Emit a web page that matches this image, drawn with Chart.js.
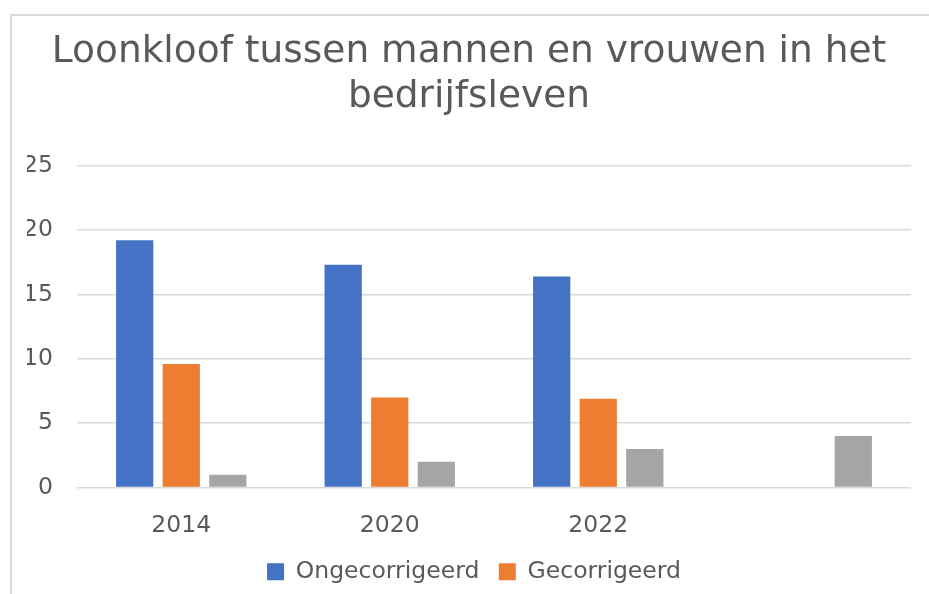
<!DOCTYPE html>
<html>
<head>
<meta charset="utf-8">
<script src="https://cdn.jsdelivr.net/npm/chart.js@4/dist/chart.umd.min.js"></script>
<style>
  html, body { margin: 0; padding: 0; background: #ffffff; overflow: hidden; }
  #frame { position: absolute; left: 10px; top: 14px; width: 1000px; height: 700px; border: 2px solid #d9d9d9; box-sizing: border-box; }
  #wrap { position: absolute; left: 0; top: 0; width: 929px; height: 594px; }
</style>
</head>
<body>
<div id="frame"></div>
<div id="wrap"><canvas id="c" width="929" height="594"></canvas></div>
<script>
const categories = ['2014', '2020', '2022', ''];
const ongecorrigeerd = [19.2, 17.3, 16.4, null];
const gecorrigeerd = [9.6, 7.0, 6.9, null];
const derdeReeks = [1, 2, 3, 4];
const yTicks = [0, 5, 10, 15, 20, 25];
const titleLines = ['Loonkloof tussen mannen en vrouwen in het', 'bedrijfsleven'];

const textColor = '#595959';
const font = 'DejaVu Sans';

const legendShift = {
  id: 'legendShift',
  afterLayout(chart) {
    if (chart.legend) { chart.legend.left -= 20; chart.legend.right -= 20; }
  }
};

new Chart(document.getElementById('c'), {
  type: 'bar',
  data: {
    labels: categories,
    datasets: [
      { label: 'Ongecorrigeerd', data: ongecorrigeerd, backgroundColor: '#4472C4' },
      { label: 'Gecorrigeerd', data: gecorrigeerd, backgroundColor: '#ED7D31' },
      { label: '', data: derdeReeks, backgroundColor: '#A5A5A5' }
    ]
  },
  plugins: [legendShift],
  options: {
    responsive: false,
    animation: false,
    devicePixelRatio: 1,
    datasets: { bar: { categoryPercentage: 0.67, barPercentage: 0.8 } },
    layout: { padding: { left: 27, right: 18, top: 0, bottom: 0.5 } },
    plugins: {
      title: {
        display: true,
        text: titleLines,
        color: textColor,
        font: { family: font, size: 37.5, weight: 'normal', lineHeight: 1.2 },
        padding: { top: 29.5, bottom: 46.2 }
      },
      legend: {
        position: 'bottom',
        fullSize: false,
        labels: {
          color: textColor,
          font: { family: font, size: 23.5 },
          boxWidth: 17,
          boxHeight: 17,
          padding: 19.5,
          filter: (item) => item.text !== ''
        }
      },
      tooltip: { enabled: false }
    },
    scales: {
      x: {
        afterFit: (scale) => { scale.height = 53; },
        grid: { display: false, drawTicks: false },
        border: { display: false },
        ticks: { color: textColor, font: { family: font, size: 23.5 }, padding: 24 }
      },
      y: {
        min: 0,
        max: 25,
        afterBuildTicks: (scale) => { scale.ticks = yTicks.map(v => ({ value: v })); },
        afterFit: (scale) => { scale.width = 50; },
        grid: { color: '#d9d9d9', lineWidth: 1.5, drawTicks: false },
        border: { display: false },
        ticks: { color: textColor, font: { family: font, size: 23.5 }, padding: 24 }
      }
    }
  }
});
</script>
</body>
</html>
